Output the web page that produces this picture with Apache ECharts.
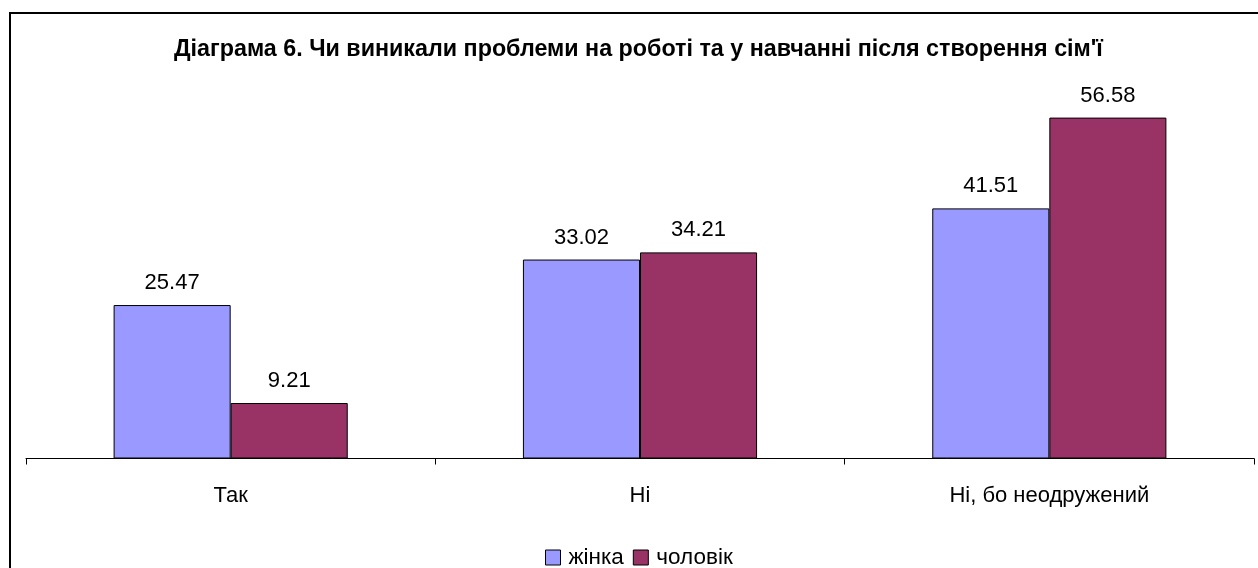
<!DOCTYPE html>
<html>
<head>
<meta charset="utf-8">
<script src="https://cdn.jsdelivr.net/npm/echarts@6/dist/echarts.min.js"></script>
<style>
  html, body { margin: 0; padding: 0; background: #fff; }
  #chart { width: 1258px; height: 568px; }
</style>
</head>
<body>
<div id="chart"></div>
<script>
const titleText = "Діаграма 6. Чи виникали проблеми на роботі та у навчанні після створення сім'ї";
const categories = ['Так', 'Ні', 'Ні, бо неодружений'];
const womenName = 'жінка';
const menName = 'чоловік';
const womenValues = [25.47, 33.02, 41.51];
const menValues = [9.21, 34.21, 56.58];

const font = 'Liberation Sans, Arial, sans-serif';
const chart = echarts.init(document.getElementById('chart'), null, { renderer: 'canvas' });

const labelStyle = {
  show: true,
  position: 'top',
  distance: 11,
  color: '#000',
  fontSize: 22,
  fontFamily: font,
  formatter: p => p.value.toFixed(2)
};

chart.setOption({
  backgroundColor: '#fff',
  animation: false,
  graphic: [{
    type: 'rect',
    shape: { x: 10, y: 13, width: 1400, height: 700 },
    style: { fill: 'none', stroke: '#000', lineWidth: 2 },
    silent: true
  }],
  title: {
    text: titleText,
    left: 169,
    top: 33,
    textStyle: { fontFamily: font, fontSize: 23.3, fontWeight: 'bold', color: '#000' }
  },
  legend: {
    top: 541,
    left: 540,
    itemWidth: 15,
    itemHeight: 15,
    itemGap: 9,
    icon: 'rect',
    textStyle: { fontFamily: font, fontSize: 22.5, color: '#000', padding: [0, 0, 0, 3] },
    itemStyle: { borderColor: '#000', borderWidth: 1 },
    data: [womenName, menName]
  },
  grid: { left: 26, right: 4, top: 97, bottom: 109.5 },
  xAxis: {
    type: 'category',
    data: categories,
    axisLine: { lineStyle: { color: '#000', width: 1 } },
    axisTick: { show: true, length: 6, lineStyle: { color: '#000' } },
    axisLabel: { fontFamily: font, fontSize: 22, color: '#000', margin: 26 }
  },
  yAxis: {
    type: 'value',
    min: 0,
    max: 60,
    interval: 10,
    show: false,
    splitLine: { show: false }
  },
  series: [
    {
      name: womenName,
      type: 'bar',
      data: womenValues,
      barGap: '0%',
      barCategoryGap: '42.8%',
      itemStyle: { color: '#9999FF', borderColor: '#000', borderWidth: 1 },
      label: labelStyle
    },
    {
      name: menName,
      type: 'bar',
      data: menValues,
      itemStyle: { color: '#993366', borderColor: '#000', borderWidth: 1 },
      label: labelStyle
    }
  ]
});
</script>
</body>
</html>
